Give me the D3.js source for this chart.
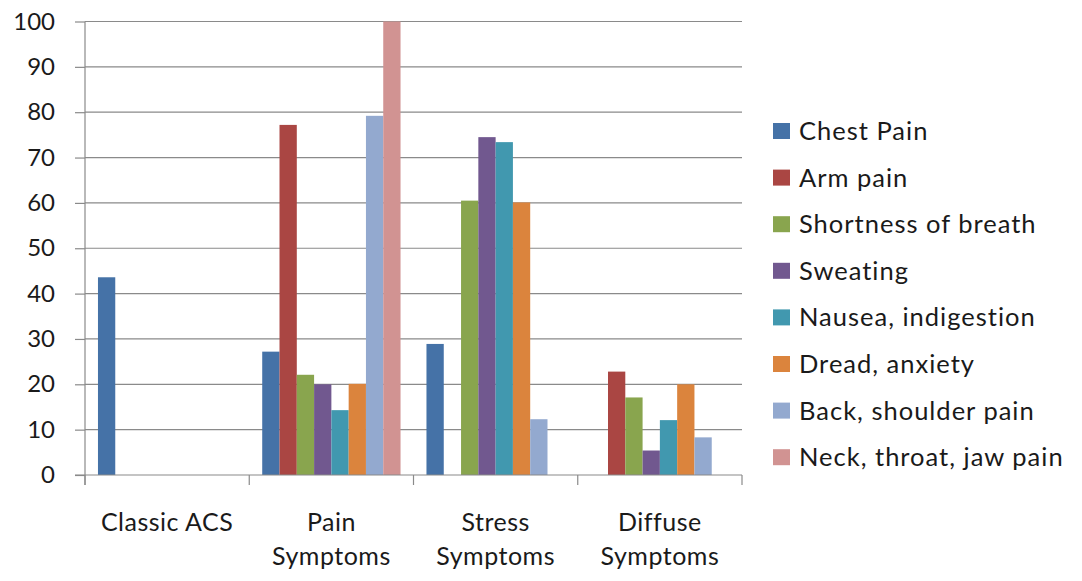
<!DOCTYPE html>
<html>
<head>
<meta charset="utf-8">
<script src="https://cdn.jsdelivr.net/npm/d3@7"></script>
<style>
    body { margin: 0; background: #fff; }
    #chart-area { width: 1082px; height: 581px; }
    text { font-family: Lato, "Open Sans", sans-serif; fill: #1a1a1a; }
</style>
</head>
<body>
<div id="chart-area"></div>
<script>

// Chart values
const categories = [["Classic ACS"], ["Pain", "Symptoms"], ["Stress", "Symptoms"], ["Diffuse", "Symptoms"]];
const series = ["Chest Pain", "Arm pain", "Shortness of breath", "Sweating",
    "Nausea, indigestion", "Dread, anxiety", "Back, shoulder pain", "Neck, throat, jaw pain"];
const colors = ["#4572A7", "#AA4643", "#89A54E", "#71588F", "#4198AF", "#DB843D", "#93A9CF", "#D19392"];

// one array per category, in series order (0 = no bar)
const classicACS = [43.6, 0, 0, 0, 0, 0, 0, 0];
const painSymptoms = [27.2, 77.2, 22.1, 20.0, 14.3, 20.1, 79.2, 100];
const stressSymptoms = [28.9, 0, 60.5, 74.5, 73.4, 60.1, 12.3, 0];
const diffuseSymptoms = [0, 22.8, 17.1, 5.4, 12.1, 20.0, 8.3, 0];
const yTicks = [0, 10, 20, 30, 40, 50, 60, 70, 80, 90, 100];


class groupedBars {

    constructor(_parentElement, _values) {
        this.parentElement = _parentElement;
        this.values = _values;

        this.initVis();
    }

    initVis() {
        let vis = this;

        vis.margin = { top: 21.5, right: 340, bottom: 106, left: 85 };
        vis.width = 1082 - vis.margin.left - vis.margin.right;
        vis.height = 581 - vis.margin.top - vis.margin.bottom;

        vis.svg = d3.select("#" + vis.parentElement).append("svg")
            .attr("width", 1082)
            .attr("height", 581)
            .append("g")
            .attr("transform", "translate(" + vis.margin.left + "," + vis.margin.top + ")");

        // Scales
        vis.x0 = d3.scaleBand()
            .domain(d3.range(categories.length))
            .range([0, vis.width]);

        vis.x1 = d3.scaleBand()
            .domain(d3.range(series.length))
            .range([0, vis.x0.bandwidth()])
            .paddingInner(0)
            .paddingOuter(0.75);

        vis.y = d3.scaleLinear()
            .domain([0, 100])
            .range([vis.height, 0]);

        // Gridlines
        vis.svg.selectAll(".grid")
            .data(yTicks.filter(d => d > 0))
            .enter().append("line")
            .attr("class", "grid")
            .attr("x1", 0)
            .attr("x2", vis.width)
            .attr("y1", d => vis.y(d))
            .attr("y2", d => vis.y(d))
            .style("stroke", "#8a8a8a")
            .style("stroke-width", 1.2);

        // Bars
        vis.values.forEach(function (vals, ci) {
            vis.svg.selectAll(".bar-" + ci)
                .data(vals.map((v, si) => ({ v: v, si: si })).filter(d => d.v > 0))
                .enter().append("rect")
                .attr("class", "bar bar-" + ci)
                .attr("x", d => vis.x0(ci) + vis.x1(d.si))
                .attr("width", vis.x1.bandwidth())
                .attr("y", d => vis.y(d.v))
                .attr("height", d => vis.height - vis.y(d.v))
                .style("fill", d => colors[d.si]);
        });

        // Y axis
        vis.yAxis = d3.axisLeft(vis.y)
            .tickValues(yTicks)
            .tickSize(10)
            .tickPadding(20);

        vis.svg.append("g")
            .attr("class", "y-axis axis")
            .call(vis.yAxis)
            .call(g => g.select(".domain").remove())
            .call(g => g.selectAll("line").style("stroke", "#8a8a8a").style("stroke-width", 1.2))
            .call(g => g.selectAll("text").style("font-size", "24px").style("fill", "#1a1a1a")
                .style("font-family", "Lato, sans-serif"));

        vis.svg.append("line")
            .attr("x1", 0).attr("x2", 0)
            .attr("y1", 0).attr("y2", vis.height + 10)
            .style("stroke", "#8a8a8a")
            .style("stroke-width", 1.2);

        // X axis
        vis.svg.append("line")
            .attr("x1", -10).attr("x2", vis.width)
            .attr("y1", vis.height).attr("y2", vis.height)
            .style("stroke", "#8a8a8a")
            .style("stroke-width", 1.2);

        vis.svg.selectAll(".cat-tick")
            .data(d3.range(categories.length + 1))
            .enter().append("line")
            .attr("class", "cat-tick")
            .attr("x1", d => d * vis.x0.step())
            .attr("x2", d => d * vis.x0.step())
            .attr("y1", vis.height)
            .attr("y2", vis.height + 10)
            .style("stroke", "#8a8a8a")
            .style("stroke-width", 1.2);

        let labels = vis.svg.selectAll(".cat-label")
            .data(categories)
            .enter().append("text")
            .attr("class", "cat-label")
            .attr("x", (d, i) => vis.x0(i) + vis.x0.bandwidth() / 2)
            .attr("y", vis.height + 56)
            .style("text-anchor", "middle")
            .style("font-size", "25px")
            .style("letter-spacing", "0.5px");

        labels.selectAll("tspan")
            .data(d => d)
            .enter().append("tspan")
            .attr("x", function () { return this.parentNode.getAttribute("x"); })
            .attr("dy", (d, i) => i === 0 ? 0 : 34)
            .text(d => d);

        // Legend
        let legend = vis.svg.selectAll(".legend")
            .data(series)
            .enter().append("g")
            .attr("class", "legend")
            .attr("transform", (d, i) => "translate(" + (773 - vis.margin.left) + "," + (131 + i * 46.6 - vis.margin.top) + ")");

        legend.append("rect")
            .attr("x", 0)
            .attr("y", -8)
            .attr("width", 17)
            .attr("height", 16)
            .style("fill", (d, i) => colors[i]);

        legend.append("text")
            .attr("x", 26)
            .attr("y", 9)
            .style("font-size", "25.5px")
            .style("letter-spacing", "1px")
            .text(d => d);
    }
}

new groupedBars("chart-area", [classicACS, painSymptoms, stressSymptoms, diffuseSymptoms]);

</script>
</body>
</html>
